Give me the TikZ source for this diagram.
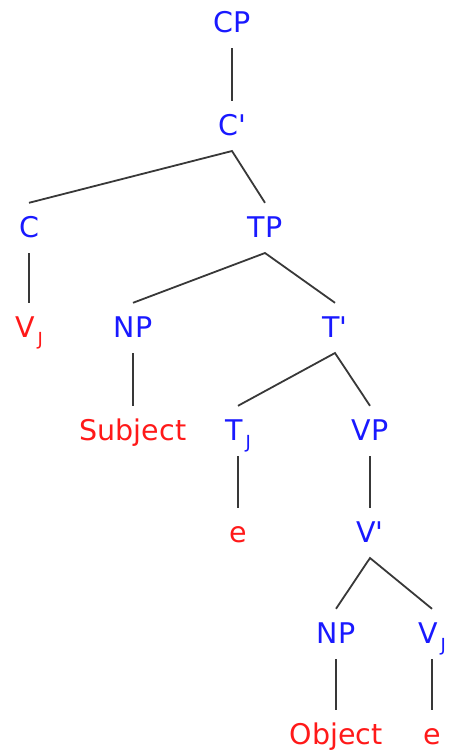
\documentclass[tikz,border=0pt]{standalone}
\usepackage{fontspec}
\setmainfont{DejaVu Sans}
\definecolor{lblue}{RGB}{25,25,255}
\definecolor{lred}{RGB}{255,25,25}
\newcommand\subJ{\hspace{3pt}\raisebox{-8pt}{\fontsize{18}{18}\selectfont J}}
\newcommand\pr{\textquotesingle}
\tikzset{
  lab/.style={anchor=base, font=\fontsize{28.5}{30}\selectfont, text height=21pt, text depth=2pt, inner xsep=0pt, inner ysep=13.4pt},
  cat/.style={lab, text=lblue},
  word/.style={lab, text=lred},
  edge/.style={draw=black!78, line width=1.8pt}
}
\begin{document}
\begin{tikzpicture}[x=1pt,y=-1pt]
\useasboundingbox (0,0) rectangle (450,756);
\node[cat] (CP) at (232,32.4) {CP};
\node[cat] (C1) at (232,135.4) {C\pr};
\node[cat] (C) at (29,237.4) {C};
\node[cat] (TP) at (265,237.4) {TP};
\node[word] (VJa) at (29,337.4) {V\subJ};
\node[cat] (NPa) at (133,337.4) {NP};
\node[cat] (T1) at (335,337.4) {T\pr};
\node[word] (Subj) at (133,440.4) {Subject};
\node[cat] (TJ) at (238,440.4) {T\subJ};
\node[cat] (VP) at (370,440.4) {VP};
\node[word] (ea) at (238,542.4) {e};
\node[cat] (V1) at (370,542.4) {V\pr};
\node[cat] (NPb) at (336,643.4) {NP};
\node[cat] (VJb) at (432,643.4) {V\subJ};
\node[word] (Obj) at (336,744.4) {Object};
\node[word] (eb) at (432,744.4) {e};
\draw[edge] (CP.south) -- (C1.north);
\draw[edge] (C.north) -- (C1.south) -- (TP.north);
\draw[edge] (C.south) -- (VJa.north);
\draw[edge] (NPa.north) -- (TP.south) -- (T1.north);
\draw[edge] (NPa.south) -- (Subj.north);
\draw[edge] (TJ.north) -- (T1.south) -- (VP.north);
\draw[edge] (TJ.south) -- (ea.north);
\draw[edge] (VP.south) -- (V1.north);
\draw[edge] (NPb.north) -- (V1.south) -- (VJb.north);
\draw[edge] (NPb.south) -- (Obj.north);
\draw[edge] (VJb.south) -- (eb.north);
\end{tikzpicture}
\end{document}
